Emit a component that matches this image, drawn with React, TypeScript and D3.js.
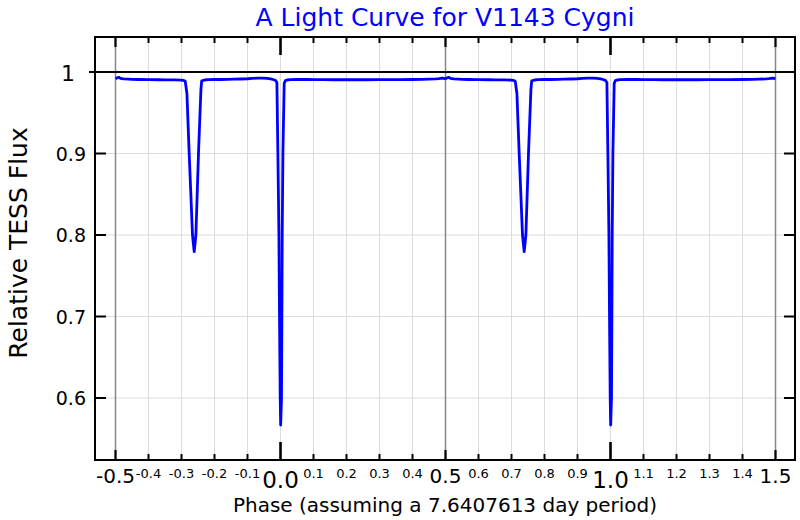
import React from "react";
import * as d3 from "d3";

// Folded light curve, one cycle (phase -0.5 .. 0.5), drawn twice (cycle offsets)
const phase: number[] = [
  -0.5, -0.495, -0.49, -0.485, -0.475, -0.46, -0.45, -0.43, -0.4, -0.37, -0.35, -0.32, -0.3, -0.295, -0.2888,
  -0.2836, -0.2767, -0.2667, -0.2615, -0.2564, -0.2485, -0.2412, -0.2388,
  -0.23, -0.22, -0.2, -0.18, -0.16, -0.14, -0.12, -0.1, -0.085, -0.07, -0.055, -0.04, -0.03, -0.02, -0.015, -0.0109,
  -0.0079, -0.0048, -0.003, -0.0009, 0.0005, 0.003, 0.0042, 0.0052, 0.0073, 0.0112,
  0.015, 0.02, 0.03, 0.05, 0.08, 0.1, 0.13, 0.16, 0.2, 0.23, 0.26, 0.3, 0.33, 0.36, 0.4, 0.43, 0.45, 0.47, 0.48, 0.49, 0.4999,
];
const flux: number[] = [
  0.9918, 0.9928, 0.9935, 0.9922, 0.9916, 0.9912, 0.9910, 0.9908, 0.9906, 0.9905, 0.9903, 0.9903, 0.9901, 0.9898, 0.9890,
  0.974, 0.9, 0.8, 0.7795, 0.8, 0.9, 0.978, 0.9892,
  0.9902, 0.9906, 0.9908, 0.9908, 0.9910, 0.9912, 0.9914, 0.9917, 0.9922, 0.9925, 0.9924, 0.9922, 0.9915, 0.9905, 0.9895, 0.987,
  0.9, 0.8, 0.7, 0.6, 0.5669, 0.6, 0.7, 0.8, 0.9, 0.986,
  0.9895, 0.9902, 0.9906, 0.9908, 0.9908, 0.9907, 0.9906, 0.9905, 0.9905, 0.9905, 0.9905, 0.9906, 0.9906, 0.9907, 0.9908, 0.9910, 0.9912, 0.9915, 0.9918, 0.9924, 0.9918,
];
const cycles: number[] = [0, 1];

const xMinor: number[] = [-0.4, -0.3, -0.2, -0.1, 0.1, 0.2, 0.3, 0.4, 0.6, 0.7, 0.8, 0.9, 1.1, 1.2, 1.3, 1.4];
const xHalf: number[] = [-0.5, 0.5, 1.5];
const xInt: number[] = [0, 1];
const yTicks: number[] = [0.9, 0.8, 0.7, 0.6];

const title = "A Light Curve for V1143 Cygni";
const xTitle = "Phase (assuming a 7.6407613 day period)";
const yTitle = "Relative TESS Flux";

const FONT = "'DejaVu Sans', sans-serif";

export default function App() {
  const L = 95, R = 795, T = 37, B = 460;
  const x = d3.scaleLinear().domain([-0.5, 1.5]).range([115.5, 775.5]);
  const y = d3.scaleLinear().domain([0.6, 1]).range([398, 72]);

  const pts: [number, number][] = [];
  cycles.forEach((c) => {
    phase.forEach((p, i) => pts.push([p + c, flux[i]]));
  });
  const line = d3
    .line<[number, number]>()
    .x((d) => x(d[0]))
    .y((d) => y(d[1]));

  const fmt = (v: number) => v.toFixed(1);

  return (
    <svg
      width={800}
      height={520}
      style={{ position: "absolute", left: 0, top: 0, background: "#fff" }}
      fontFamily={FONT}
    >
      <rect x={0} y={0} width={800} height={520} fill="#fff" />
      {/* grid */}
      {xMinor.concat(xInt).map((v) => (
        <line key={"gx" + v} x1={x(v)} x2={x(v)} y1={T} y2={B} stroke="#dcdcdc" strokeWidth={1} />
      ))}
      {yTicks.map((v) => (
        <line key={"gy" + v} x1={L} x2={R} y1={y(v)} y2={y(v)} stroke="#dcdcdc" strokeWidth={1} />
      ))}
      {xHalf.map((v) => (
        <line key={"gh" + v} x1={x(v)} x2={x(v)} y1={T} y2={B} stroke="#888" strokeWidth={1.5} />
      ))}
      {/* y = 1 reference */}
      <line x1={89} x2={R} y1={y(1)} y2={y(1)} stroke="#000" strokeWidth={2} />

      {/* data */}
      <path d={line(pts) || ""} fill="none" stroke="#0000ff" strokeWidth={2.8} strokeLinejoin="round" />

      {/* frame */}
      <rect x={L} y={T} width={R - L} height={B - T} fill="none" stroke="#000" strokeWidth={2} />

      {/* x ticks */}
      {xMinor.map((v) => (
        <g key={"tm" + v}>
          <line x1={x(v)} x2={x(v)} y1={T} y2={T + 6} stroke="#000" strokeWidth={2} />
          <line x1={x(v)} x2={x(v)} y1={B} y2={B - 6} stroke="#000" strokeWidth={2} />
          <text x={x(v)} y={478} fontSize={13} textAnchor="middle" fill="#000">
            {fmt(v)}
          </text>
        </g>
      ))}
      {xHalf.map((v) => (
        <g key={"th" + v}>
          <line x1={x(v)} x2={x(v)} y1={T} y2={T + 10} stroke="#000" strokeWidth={2.2} />
          <line x1={x(v)} x2={x(v)} y1={B} y2={B - 10} stroke="#000" strokeWidth={2.2} />
          <text x={x(v)} y={483} fontSize={20} textAnchor="middle" fill="#000">
            {fmt(v)}
          </text>
        </g>
      ))}
      {xInt.map((v) => (
        <g key={"ti" + v}>
          <line x1={x(v)} x2={x(v)} y1={T} y2={T + 18} stroke="#000" strokeWidth={2.6} />
          <line x1={x(v)} x2={x(v)} y1={B} y2={B - 18} stroke="#000" strokeWidth={2.6} />
          <text x={x(v)} y={488} fontSize={23} textAnchor="middle" fill="#000">
            {fmt(v)}
          </text>
        </g>
      ))}

      {/* y ticks */}
      {yTicks.map((v) => (
        <g key={"ty" + v}>
          <line x1={L} x2={L + 11} y1={y(v)} y2={y(v)} stroke="#000" strokeWidth={2} />
          <line x1={R} x2={R - 11} y1={y(v)} y2={y(v)} stroke="#000" strokeWidth={2} />
          <text x={86} y={y(v) + 7} fontSize={19} textAnchor="end" fill="#000">
            {fmt(v)}
          </text>
        </g>
      ))}
      <text x={75} y={y(1) + 8.5} fontSize={22} textAnchor="end" fill="#000">
        1
      </text>

      {/* titles */}
      <text x={445} y={26} fontSize={25} textAnchor="middle" fill="#0000ff">
        {title}
      </text>
      <text x={445} y={512} fontSize={20} textAnchor="middle" fill="#000">
        {xTitle}
      </text>
      <text transform="translate(27,243) rotate(-90)" fontSize={25} textAnchor="middle" fill="#000">
        {yTitle}
      </text>
    </svg>
  );
}
